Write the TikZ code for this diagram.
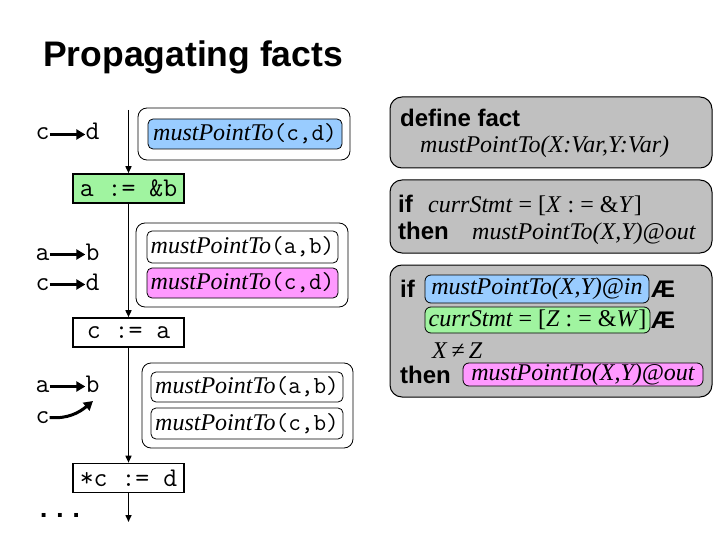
\documentclass[tikz,border=0pt]{standalone}
\usepackage{fontspec}
\setmainfont{Liberation Serif}
\setsansfont{Liberation Sans}
\newfontfamily\dotfont{Liberation Mono}
\usetikzlibrary{arrows.meta}
\definecolor{factblue}{HTML}{99CCFF}
\definecolor{factgreen}{HTML}{A0F4A0}
\definecolor{factpink}{HTML}{FF99FF}
\definecolor{panelgray}{HTML}{C0C0C0}
\newcommand\mptname{\textit{mustPointTo}}
\newcommand\monoarg[1]{{\ttfamily\fontsize{24.5}{28}\selectfont #1}}
\begin{document}
\begin{tikzpicture}[x=1pt,y=1pt,
  stmt/.style={draw,line width=1.6pt,minimum width=111pt,minimum height=29pt,inner sep=0pt,font=\ttfamily\fontsize{27}{30}\selectfont},
  group/.style={draw,line width=0.8pt,rounded corners=9pt,inner sep=0pt},
  fact/.style={draw,line width=0.8pt,rounded corners=5pt,inner sep=0pt,font=\fontsize{24}{28}\selectfont},
  flow/.style={line width=1.5pt,-{Triangle[length=7pt,width=6pt]}},
  ptr/.style={line width=3pt,-{Triangle[length=9pt,width=10pt]}},
  var/.style={inner sep=0pt,anchor=base,text height=11pt,text depth=0pt,font=\ttfamily\fontsize{27}{30}\selectfont},
  panel/.style={draw,line width=1pt,fill=panelgray,rounded corners=12pt,inner sep=0pt},
  kw/.style={inner sep=0pt,anchor=base west,font=\sffamily\bfseries\fontsize{24}{28}\selectfont},
  rtxt/.style={inner sep=0pt,anchor=base west,font=\fontsize{24}{28}\selectfont},
  rfact/.style={draw,line width=0.8pt,rounded corners=6pt,inner sep=0pt,font=\itshape\fontsize{24}{28}\selectfont},
]
\useasboundingbox (0,0) rectangle (720,-540);
\fill[white] (0,0) rectangle (720,-540);

% title
\node[inner sep=0pt,anchor=base west,font=\sffamily\bfseries\fontsize{35.5}{42}\selectfont] (title) at (43,-67) {Propagating facts};

% flow graph
\coordinate (top) at (128.5,-110);
\node[stmt,fill=factgreen] (s1) at (128.5,-188.5) {a := \&b};
\node[stmt,fill=white] (s2) at (128.5,-332.5) {c := a};
\node[stmt,fill=white] (s3) at (128.5,-478) {*c := d};
\coordinate (bot) at (128.5,-522);
\draw[flow] (top) -- (s1.north);
\draw[flow] (s1.south) -- (s2.north);
\draw[flow] (s2.south) -- (s3.north);
\draw[flow] (s3.south) -- (bot);

% fact groups
\node[group,minimum width=212pt,minimum height=52pt] (g1) at (244,-134) {};
\node[fact,fill=factblue,minimum width=194pt,minimum height=30pt] (f1) at (245,-134) {\mptname\monoarg{(c,d)}};

\node[group,minimum width=212pt,minimum height=84pt] (g2) at (242,-265) {};
\node[fact,fill=white,minimum width=191pt,minimum height=32pt] (f2) at (242.5,-247) {\mptname\monoarg{(a,b)}};
\node[fact,fill=factpink,minimum width=191pt,minimum height=30pt] (f3) at (242.5,-283) {\mptname\monoarg{(c,d)}};

\node[group,minimum width=211pt,minimum height=85pt] (g3) at (247.5,-405.5) {};
\node[fact,fill=white,minimum width=192pt,minimum height=30pt] (f4) at (247,-387) {\mptname\monoarg{(a,b)}};
\node[fact,fill=white,minimum width=192pt,minimum height=31pt] (f5) at (247,-423.5) {\mptname\monoarg{(c,b)}};

% points-to graphs
\node[var] (c1) at (42.5,-140) {c};
\node[var] (d1) at (92.5,-140) {d};
\draw[ptr] (c1.east) -- (d1.west);

\node[var] (a2) at (42.5,-260) {a};
\node[var] (b2) at (92.5,-260) {b};
\draw[ptr] (a2.east) -- (b2.west);
\node[var] (c2) at (42.5,-290) {c};
\node[var] (d2) at (92.5,-290) {d};
\draw[ptr] (c2.east) -- (d2.west);

\node[var] (a3) at (42.5,-392) {a};
\node[var] (b3) at (92.5,-392) {b};
\draw[ptr] (a3.east) -- (b3.west);
\node[var] (c3) at (42.5,-423) {c};
\coordinate (b3tip) at (93,-401);
\draw[ptr] (c3.east) to[out=-5,in=220] (b3tip);

\node[inner sep=0pt,anchor=base,font=\dotfont\bfseries\fontsize{27}{30}\selectfont] (dots) at (60,-517) {...};

% rule panels
\node[panel,minimum width=322pt,minimum height=71pt] (r1) at (551,-132.5) {};
\node[kw] (r1a) at (400,-127) {define fact};
\node[rtxt] (r1b) at (420,-153) {\textit{mustPointTo(X:Var,Y:Var)}};

\node[panel,minimum width=322pt,minimum height=73pt] (r2) at (551,-216.5) {};
\node[kw] (r2if) at (398,-213) {if};
\node[rtxt] (r2c) at (428,-213) {\textit{currStmt} = [\textit{X} : = \&\textit{Y}]};
\node[kw] (r2then) at (398,-240) {then};
\node[rtxt] (r2o) at (472,-240) {\textit{mustPointTo(X,Y)@out}};

\node[panel,minimum width=322pt,minimum height=132pt] (r3) at (551,-331) {};
\node[kw] (r3if) at (400,-297) {if};
\node[rfact,fill=factblue,minimum width=224pt,minimum height=28pt] (r3in) at (537,-289) {mustPointTo(X,Y)@in};
\node[kw] (r3and1) at (651,-297) {Æ};
\node[rfact,fill=factgreen,minimum width=225pt,minimum height=26pt] (r3st) at (537.5,-320) {currStmt \upshape= [\textit{Z} : = \&\textit{W}]};
\node[kw] (r3and2) at (651,-328) {Æ};
\node[rtxt] (r3ne) at (432,-358) {\textit{X}\,≠\,\textit{Z}};
\node[kw] (r3then) at (400,-383) {then};
\node[rfact,fill=factpink,minimum width=240pt,minimum height=23pt] (r3out) at (583,-374.5) {mustPointTo(X,Y)@out};
\end{tikzpicture}
\end{document}
